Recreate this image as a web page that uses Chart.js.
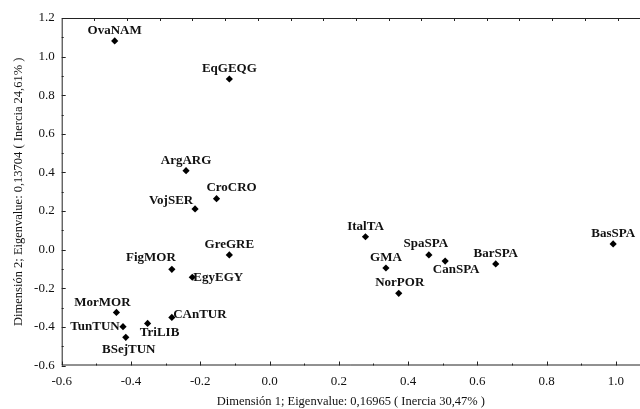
<!DOCTYPE html>
<html>
<head>
<meta charset="utf-8">
<script src="https://cdn.jsdelivr.net/npm/chart.js@4.4.0/dist/chart.umd.min.js"></script>
<style>
  html, body { margin: 0; padding: 0; background: #fff; }
  #wrap { width: 640px; height: 409px; }
</style>
</head>
<body>
<div id="wrap"><canvas id="caChart" width="640" height="409"></canvas></div>
<script>
// Correspondence analysis coordinates
const names = ['OvaNAM', 'EqGEQG', 'ArgARG', 'CroCRO', 'VojSER', 'GreGRE', 'FigMOR', 'EgyEGY',
               'MorMOR', 'CAnTUR', 'TunTUN', 'TriLIB', 'BSejTUN', 'ItalTA', 'SpaSPA', 'GMA',
               'CanSPA', 'BarSPA', 'NorPOR', 'BasSPA'];
const dim1 = [-0.447, -0.116, -0.241, -0.153, -0.215, -0.116, -0.282, -0.223,
              -0.442, -0.282, -0.423, -0.352, -0.415, 0.277, 0.460, 0.336,
              0.507, 0.653, 0.373, 0.992];
const dim2 = [1.081, 0.884, 0.409, 0.264, 0.211, -0.027, -0.102, -0.143,
              -0.325, -0.351, -0.399, -0.382, -0.454, 0.067, -0.027, -0.095,
              -0.059, -0.074, -0.226, 0.030];

const xTicks = [-0.6, -0.4, -0.2, 0.0, 0.2, 0.4, 0.6, 0.8, 1.0];
const yTicks = [-0.6, -0.4, -0.2, 0.0, 0.2, 0.4, 0.6, 0.8, 1.0, 1.2];

const xTitle = 'Dimensión 1; Eigenvalue: 0,16965 ( Inercia 30,47% )';
const yTitle = 'Dimensión 2; Eigenvalue: 0,13704 ( Inercia 24,61% )';

// label placement relative to its point (px), default is centred above
const labelShift = {
    CroCRO: [15, -11], VojSER: [-24, -8], FigMOR: [-21, -12], EgyEGY: [26, 0],
    MorMOR: [-14, -10], TunTUN: [-28, 0], TriLIB: [12, 9], BSejTUN: [3, 12],
    CAnTUR: [28, -3], SpaSPA: [-3, -11], CanSPA: [11, 9], NorPOR: [1, -11]
};

const serif = "'Liberation Serif', 'DejaVu Serif', serif";

const pointLabels = {
    id: 'pointLabels',
    afterDatasetsDraw(chart) {
        const ctx = chart.ctx;
        const meta = chart.getDatasetMeta(0);
        ctx.save();
        ctx.font = 'bold 13px ' + serif;
        ctx.fillStyle = '#111';
        ctx.textAlign = 'center';
        ctx.textBaseline = 'middle';
        meta.data.forEach(function(pt, i) {
            const s = labelShift[names[i]] || [0, -10];
            ctx.fillText(names[i], pt.x + s[0], pt.y + s[1]);
        });
        ctx.restore();
    }
};

// box round the plot with small inward ticks
const frame = {
    id: 'frame',
    afterDraw(chart) {
        const ctx = chart.ctx;
        const a = chart.chartArea;
        const x = chart.scales.x, y = chart.scales.y;
        ctx.save();
        ctx.strokeStyle = '#222';
        ctx.lineWidth = 1;
        ctx.beginPath();
        ctx.moveTo(a.left + 0.5, a.bottom - 0.5);
        ctx.lineTo(a.left + 0.5, a.top + 0.5);
        ctx.lineTo(a.right, a.top + 0.5);
        ctx.moveTo(a.left, a.bottom - 0.5);
        ctx.lineTo(a.right, a.bottom - 0.5);
        ctx.stroke();

        ctx.beginPath();
        for (let k = 0; k <= 16; k++) {
            const px = Math.round(x.getPixelForValue(-0.6 + k * 0.1)) + 0.5;
            const len = k % 2 === 0 ? 4 : 2;
            ctx.moveTo(px, a.bottom);
            ctx.lineTo(px, a.bottom - len);
        }
        for (let k = 0; k <= 18; k++) {
            const py = Math.round(y.getPixelForValue(-0.6 + k * 0.1)) + 0.5;
            const len = k % 2 === 0 ? 4 : 2;
            ctx.moveTo(a.left, py);
            ctx.lineTo(a.left + len, py);
        }
        // the top edge carries its own, slightly tighter tick spacing
        for (let k = 1; k <= 17; k++) {
            const px = Math.round(x.getPixelForValue(-0.6 + k * 0.0944)) + 0.5;
            ctx.moveTo(px, a.top);
            ctx.lineTo(px, a.top + 3);
        }
        ctx.stroke();
        ctx.restore();
    }
};

const ctx = document.getElementById('caChart').getContext('2d');

const caChart = new Chart(ctx, {
    type: 'scatter',
    data: {
        datasets: [{
            data: names.map(function(n, i) { return { x: dim1[i], y: dim2[i] }; }),
            pointStyle: 'rectRot',
            pointRadius: 3.6,
            backgroundColor: '#000',
            borderColor: '#000',
            borderWidth: 0
        }]
    },
    options: {
        responsive: false,
        animation: false,
        layout: {
            autoPadding: false,
            padding: { top: 18, right: -4, left: 0, bottom: 0 }
        },
        plugins: {
            legend: { display: false },
            tooltip: { enabled: false }
        },
        scales: {
            x: {
                type: 'linear',
                min: -0.6,
                max: 1.0695,
                afterBuildTicks: function(scale) {
                    scale.ticks = xTicks.map(function(v) { return { value: v }; });
                },
                afterFit: function(scale) {
                    scale.height = 43.5;
                    scale.paddingLeft = 0;
                    scale.paddingRight = 0;
                },
                grid: { display: false, drawTicks: false },
                border: { display: false },
                ticks: {
                    padding: 8,
                    color: '#111',
                    font: { family: serif, size: 13 },
                    maxRotation: 0,
                    callback: function(v) { return v.toFixed(1); }
                },
                title: {
                    display: true,
                    text: xTitle,
                    color: '#111',
                    font: { family: serif, size: 12.5 },
                    padding: { top: 0, bottom: 0 }
                }
            },
            y: {
                type: 'linear',
                min: -0.6,
                max: 1.2,
                afterBuildTicks: function(scale) {
                    scale.ticks = yTicks.map(function(v) { return { value: v }; });
                },
                afterFit: function(scale) {
                    scale.width = 61.7;
                    scale.paddingTop = 0;
                    scale.paddingBottom = 0;
                },
                grid: { display: false, drawTicks: false },
                border: { display: false },
                ticks: {
                    padding: 7,
                    color: '#111',
                    font: { family: serif, size: 13 },
                    callback: function(v) { return v.toFixed(1); }
                },
                title: {
                    display: true,
                    text: yTitle,
                    color: '#111',
                    font: { family: serif, size: 12.5 },
                    padding: { top: 11, bottom: 0 }
                }
            }
        }
    },
    plugins: [pointLabels, frame]
});
</script>
</body>
</html>
